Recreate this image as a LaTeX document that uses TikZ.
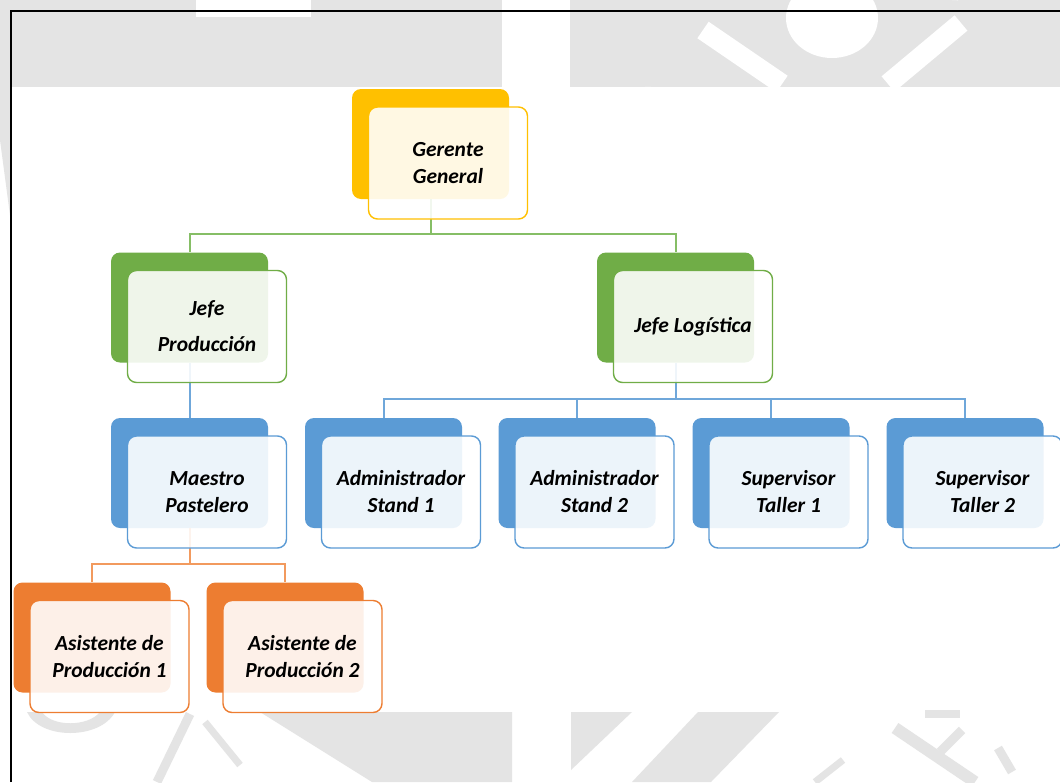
\documentclass[tikz,border=0pt]{standalone}
\usepackage{fontspec}
\setmainfont{Carlito}
\definecolor{wm}{HTML}{E4E4E4}
\definecolor{cgold}{HTML}{FFC000}
\definecolor{cgreen}{HTML}{70AD47}
\definecolor{cblue}{HTML}{5B9BD5}
\definecolor{corange}{HTML}{ED7D31}
\definecolor{lgreen}{HTML}{86BE66}
\definecolor{lblue}{HTML}{6FA7DA}
\definecolor{lorange}{HTML}{F29A5E}
\begin{document}
\begin{tikzpicture}[x=1pt,y=-1pt,
  backbox/.style={rounded corners=9pt, fill=#1, draw=none, minimum width=157pt, minimum height=110pt, inner sep=0pt},
  frontbox/.style={rounded corners=9pt, draw=#1, line width=1.4pt, fill=white, fill opacity=0.89, text opacity=1, minimum width=159pt, minimum height=112pt, align=center, inner sep=0pt, font=\fontsize{21.5}{27}\selectfont\bfseries\itshape},
  conn/.style={line width=2pt, draw=#1},
  wmline/.style={line width=#1, draw=wm, line cap=butt}]
\useasboundingbox (0,0) rectangle (1060,782);
\fill[white] (0,0) rectangle (1060,782);
% ---- watermark (background) ----
\fill[wm] (0,0) rectangle (502,87);
\fill[wm] (0,87) -- (10,87) -- (10,215) -- (0,140) -- cycle;
\fill[white] (196,0) rectangle (311,17);
\fill[wm] (570,0) rectangle (1060,87);
\fill[white] (832,18) ellipse [x radius=46, y radius=40];
\draw[white, line width=20pt] (703,30) -- (782,84);
\draw[white, line width=20pt] (961,23) -- (888,84);
\draw[white, line width=12pt] (645,87) arc[start angle=180, end angle=110, radius=40];
\draw[white, line width=12pt] (952,0) arc[start angle=180, end angle=270, radius=40];
\fill[wm] (27,712) .. controls (40,740) and (100,740) .. (115,712) -- (100,712) .. controls (88,727) and (52,727) .. (42,712) -- cycle;
\draw[wmline=9pt] (190,714) -- (157,782);
\draw[wmline=7pt] (205,722) -- (240,765);
\fill[wm] (260,712) -- (512,712) -- (512,782) -- (372,782) -- cycle;
\fill[wm] (571,712) -- (632,712) -- (571,770) -- cycle;
\fill[wm] (698,712) -- (779,712) -- (711,782) -- (632,782) -- cycle;
\draw[wmline=12pt] (895,728) -- (975,782);
\draw[wmline=8pt] (925,714) -- (960,714);
\draw[wmline=9pt] (962,730) -- (940,752);
\draw[wmline=9pt] (998,748) -- (1012,772);
\draw[wmline=7pt] (843,760) -- (815,782);
% ---- frame ----
\draw[black, line width=2pt] (10.5,782) -- (10.5,10.5) -- (1060,10.5);
% ---- back boxes ----
\node[backbox=cgold]   (gB)   at (430.5,144) {};
\node[backbox=cgreen]  (jpB)  at (189.5,307.5) {};
\node[backbox=cgreen]  (jlB)  at (675.5,307.5) {};
\node[backbox=cblue]   (mB)   at (189.5,473) {};
\node[backbox=cblue]   (s1B)  at (383.5,473) {};
\node[backbox=cblue]   (s2B)  at (577,473) {};
\node[backbox=cblue]   (t1B)  at (771,473) {};
\node[backbox=cblue]   (t2B)  at (965,473) {};
\node[backbox=corange] (a1B)  at (92,637.5) {};
\node[backbox=corange] (a2B)  at (285,637.5) {};
% ---- connectors ----
\draw[conn=lgreen] (gB.south) -- ++(0,35) coordinate (gh) -| (jpB.north);
\draw[conn=lgreen] (gh) -| (jlB.north);
\draw[conn=lblue] (jpB.south) -- (mB.north);
\draw[conn=lblue] (jlB.south) -- ++(0,36.5) coordinate (bh) -| (s1B.north);
\draw[conn=lblue] (bh) -| (s2B.north);
\draw[conn=lblue] (bh) -| (t1B.north);
\draw[conn=lblue] (bh) -| (t2B.north);
\draw[conn=lorange] (mB.south) -- ++(0,36) coordinate (oh) -| (a1B.north);
\draw[conn=lorange] (oh) -| (a2B.north);
% ---- front boxes ----
\node[frontbox=cgold]   (g)  at (448,163)     {Gerente\\General};
\node[frontbox=cgreen]  (jp) at (207,326.5)   {Jefe\\[9pt]Producción};
\node[frontbox=cgreen]  (jl) at (693,326.5)   {Jefe Logística};
\node[frontbox=cblue]   (m)  at (207,492)     {Maestro\\Pastelero};
\node[frontbox=cblue]   (s1) at (401,492)     {Administrador\\Stand 1};
\node[frontbox=cblue]   (s2) at (594.5,492)   {Administrador\\Stand 2};
\node[frontbox=cblue]   (t1) at (788.5,492)   {Supervisor\\Taller 1};
\node[frontbox=cblue]   (t2) at (982.5,492)   {Supervisor\\Taller 2};
\node[frontbox=corange] (a1) at (109.5,656.5) {Asistente de\\Producción 1};
\node[frontbox=corange] (a2) at (302.5,656.5) {Asistente de\\Producción 2};
\end{tikzpicture}
\end{document}
